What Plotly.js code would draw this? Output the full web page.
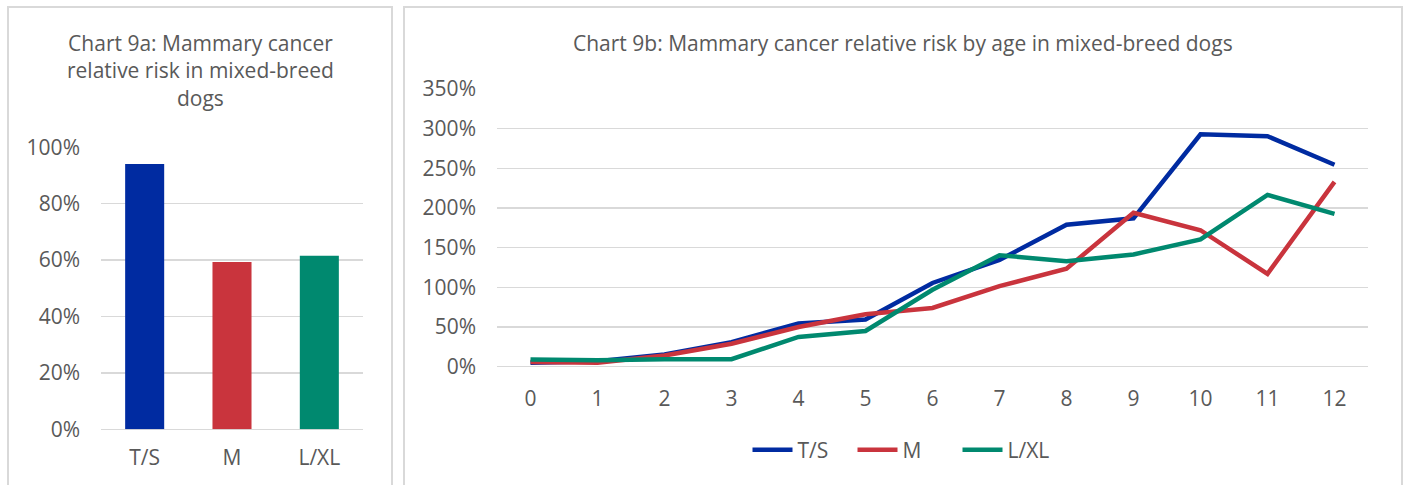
<!DOCTYPE html>
<html>
<head>
<meta charset="utf-8">
<script src="https://cdn.plot.ly/plotly-3.0.1.min.js"></script>
<style>html,body{margin:0;padding:0;background:#fff;}#chart{width:1408px;height:485px;}</style>
</head>
<body>
<div id="chart"></div>
<script>
// Chart 9a data
const sizeCategories = ['T/S', 'M', 'L/XL'];
const overallRisk = [0.941, 0.593, 0.615];

// Chart 9b data
const ages = ['0','1','2','3','4','5','6','7','8','9','10','11','12'];
const riskTS  = [0.05, 0.07, 0.155, 0.31, 0.545, 0.595, 1.055, 1.345, 1.79, 1.87, 2.93, 2.905, 2.545];
const riskM   = [0.06, 0.05, 0.14, 0.29, 0.50, 0.66, 0.74, 1.015, 1.235, 1.94, 1.72, 1.17, 2.33];
const riskLXL = [0.09, 0.08, 0.095, 0.095, 0.375, 0.45, 0.97, 1.405, 1.33, 1.415, 1.605, 2.165, 1.925];

const seriesNames = ['T/S', 'M', 'L/XL'];
const colors = ['#002BA1', '#C9343D', '#00896F'];

const W = 1408, H = 485;
const FONT = 'Open Sans, sans-serif';
const GRAY = '#595959';
const GRID = '#D9D9D9';

const traces = [
  {
    type: 'bar', x: sizeCategories, y: overallRisk, xaxis: 'x', yaxis: 'y',
    marker: {color: colors}, showlegend: false, hoverinfo: 'x+y'
  },
  {type: 'scatter', mode: 'lines', name: seriesNames[0], x: ages, y: riskTS, xaxis: 'x2', yaxis: 'y2',
   line: {color: colors[0], width: 4.5}},
  {type: 'scatter', mode: 'lines', name: seriesNames[1], x: ages, y: riskM, xaxis: 'x2', yaxis: 'y2',
   line: {color: colors[1], width: 4.5}},
  {type: 'scatter', mode: 'lines', name: seriesNames[2], x: ages, y: riskLXL, xaxis: 'x2', yaxis: 'y2',
   line: {color: colors[2], width: 4.5}}
];

const px = v => v / W;
const py = v => (H - v) / H;

const axisFont = {family: FONT, size: 21, color: GRAY};

const layout = {
  width: W, height: H,
  margin: {l: 0, r: 0, t: 0, b: 0},
  paper_bgcolor: '#fff', plot_bgcolor: '#fff',
  font: {family: FONT, color: GRAY},
  bargap: 0.553,
  xaxis: {
    domain: [px(101), px(363)], anchor: 'y', type: 'category',
    showgrid: false, zeroline: false, showline: false, ticks: '',
    tickfont: axisFont, ticklabelstandoff: 14, fixedrange: true
  },
  yaxis: {
    domain: [py(429.3), py(147.3)], anchor: 'x',
    range: [0, 1.0], dtick: 0.2, tickformat: '.0%',
    showgrid: true, gridcolor: GRID, gridwidth: 1.5, zeroline: true, zerolinecolor: GRID, zerolinewidth: 1.5,
    showline: false, ticks: '', tickfont: axisFont, ticklabelstandoff: 20, fixedrange: true
  },
  xaxis2: {
    domain: [px(497), px(1368)], anchor: 'y2', type: 'category',
    range: [-0.5, 12.5], dtick: 1,
    showgrid: false, zeroline: false, showline: false, ticks: '',
    tickfont: axisFont, ticklabelstandoff: 17, fixedrange: true
  },
  yaxis2: {
    domain: [py(366.7), py(89)], anchor: 'x2',
    range: [0, 3.5], dtick: 0.5, tickformat: '.0%',
    showgrid: true, gridcolor: GRID, gridwidth: 1.5, zeroline: true, zerolinecolor: GRID, zerolinewidth: 1.5,
    showline: false, ticks: '', tickfont: axisFont, ticklabelstandoff: 20, fixedrange: true
  },
  showlegend: true,
  legend: {
    orientation: 'h', x: px(905), xanchor: 'center', y: py(450), yanchor: 'middle',
    font: {family: FONT, size: 21, color: GRAY}, itemwidth: 40, traceorder: 'normal',
    entrywidth: 50, entrywidthmode: 'pixels',
    bgcolor: 'rgba(0,0,0,0)'
  },
  annotations: [
    {
      xref: 'paper', yref: 'paper', x: px(200), y: py(27), xanchor: 'center', yanchor: 'top',
      text: 'Chart 9a: Mammary cancer<br>relative risk in mixed-breed<br>dogs', showarrow: false,
      font: {family: FONT, size: 21, color: GRAY}, align: 'center'
    },
    {
      xref: 'paper', yref: 'paper', x: px(903), y: py(27), xanchor: 'center', yanchor: 'top',
      text: 'Chart 9b: Mammary cancer relative risk by age in mixed-breed dogs', showarrow: false,
      font: {family: FONT, size: 21, color: GRAY}, align: 'center'
    }
  ],
  shapes: [
    {type: 'rect', xref: 'paper', yref: 'paper', x0: px(8), x1: px(392), y0: py(490), y1: py(7),
     line: {color: GRID, width: 2}, fillcolor: 'rgba(0,0,0,0)', layer: 'below'},
    {type: 'rect', xref: 'paper', yref: 'paper', x0: px(404), x1: px(1402), y0: py(490), y1: py(7),
     line: {color: GRID, width: 2}, fillcolor: 'rgba(0,0,0,0)', layer: 'below'}
  ]
};

Plotly.newPlot('chart', traces, layout, {displayModeBar: false, staticPlot: true});
</script>
</body>
</html>
